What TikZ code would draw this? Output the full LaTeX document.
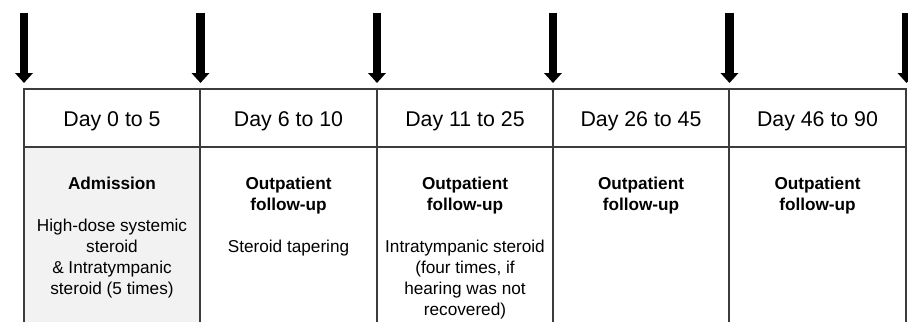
\documentclass[tikz,border=0pt]{standalone}
\usepackage{fontspec}
\setmainfont{Liberation Sans}
\usetikzlibrary{arrows.meta}
\definecolor{admitted}{HTML}{F2F2F2}
\definecolor{gridline}{HTML}{3C3C3C}

\begin{document}
\begin{tikzpicture}[x=0.75pt,y=-0.75pt,
  daytext/.style={font=\fontsize{16}{19}\selectfont,anchor=base,inner sep=0pt},
  stagetext/.style={font=\fontsize{12.9}{15.75}\selectfont,align=center,anchor=north,inner sep=0pt},
  visit/.style={line width=6.3pt,-{Triangle[width=13pt,length=7.5pt]}}]
  \useasboundingbox (0,0) rectangle (908,322);

  % The admission period is shaded below its header.
  \fill[admitted] (24,147) rectangle (200,322);

  % Table grid: outer frame, header rule, column dividers.
  \draw[gridline,line width=1pt] (24,322) -- (24,89) -- (906,89) -- (906,322);
  \draw[gridline,line width=1pt] (24,147) -- (906,147);
  \foreach \x in {200,377,553,729} {
    \draw[gridline,line width=1pt] (\x,89) -- (\x,322);
  }

  % Visit markers at every period boundary.
  \foreach \i/\x in {0/24,1/200.5,2/377,3/553,4/729.5,5/906.5} {
    \coordinate (from\i) at (\x,12.5);
    \coordinate (to\i) at (\x,83);
    \draw[visit] (from\i) -- (to\i);
  }

  % Header row.
  \foreach \i/\cx/\name in {0/112/Day 0 to 5,1/288.5/Day 6 to 10,2/465/Day 11 to 25,3/641/Day 26 to 45,4/817.5/Day 46 to 90} {
    \node[daytext] (day\i) at (\cx,126) {\name};
  }

  % Stage of care and treatment in each period.
  \node[stagetext] (stage0) at (112,176.5) {\textbf{Admission}\\[15.75pt]High-dose systemic\\steroid\\\& Intratympanic\\steroid (5 times)};
  \node[stagetext] (stage1) at (288.5,176.5) {\textbf{Outpatient}\\\textbf{follow-up}\\[15.75pt]Steroid tapering};
  \node[stagetext] (stage2) at (465,176.5) {\textbf{Outpatient}\\\textbf{follow-up}\\[15.75pt]Intratympanic steroid\\(four times, if\\hearing was not\\recovered)};
  \node[stagetext] (stage3) at (641,176.5) {\textbf{Outpatient}\\\textbf{follow-up}};
  \node[stagetext] (stage4) at (817.5,176.5) {\textbf{Outpatient}\\\textbf{follow-up}};
\end{tikzpicture}
\end{document}
